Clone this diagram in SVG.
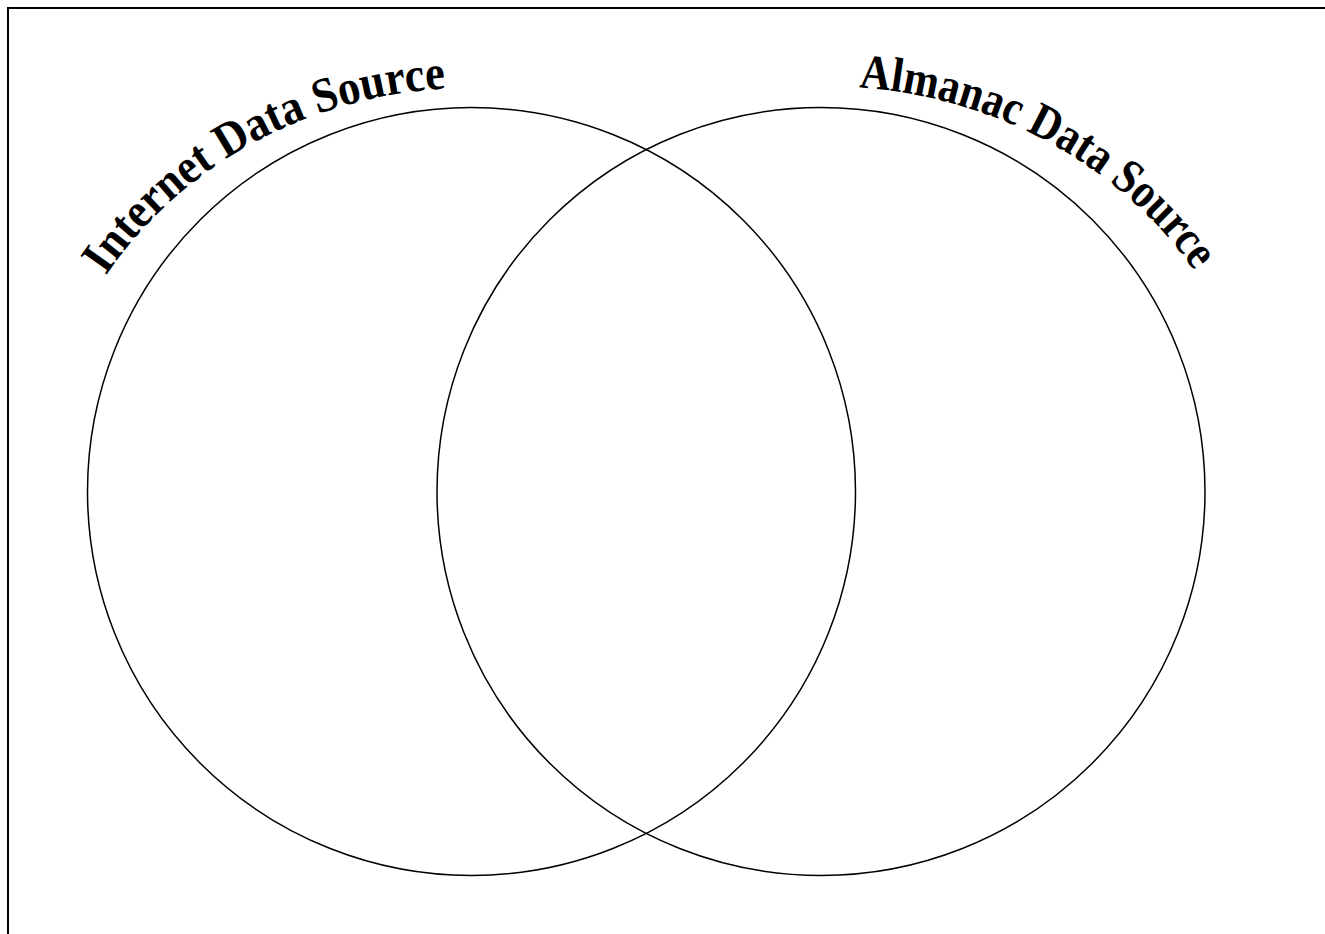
<svg xmlns="http://www.w3.org/2000/svg" width="1325" height="934" viewBox="0 0 1325 934">
  <style>
    .frame { fill: none; stroke: #000; stroke-width: 2; }
    .set { fill: none; stroke: #000; stroke-width: 1.5; }
    .label { font-family: "Liberation Serif", "Times New Roman", serif; font-weight: bold; font-size: 49px; fill: #000; }
  </style>
  <defs>
    <path id="arcLeft" d="M 105.8 275.8 A 432 403 0 0 1 455.9 88.2"/>
    <path id="arcRight" d="M 859 87.6 A 438 405 0 0 1 1205 287"/>
  </defs>
  <rect class="frame" x="8" y="8" width="1340" height="960"/>
  <g id="internet">
    <circle class="set" cx="471.5" cy="491.5" r="384"/>
    <text class="label"><textPath href="#arcLeft" textLength="402" lengthAdjust="spacingAndGlyphs">Internet Data Source</textPath></text>
  </g>
  <g id="almanac">
    <circle class="set" cx="821" cy="491.5" r="384"/>
    <text class="label"><textPath href="#arcRight" textLength="395" lengthAdjust="spacingAndGlyphs">Almanac Data Source</textPath></text>
  </g>
  <g id="connectors"></g>
</svg>
